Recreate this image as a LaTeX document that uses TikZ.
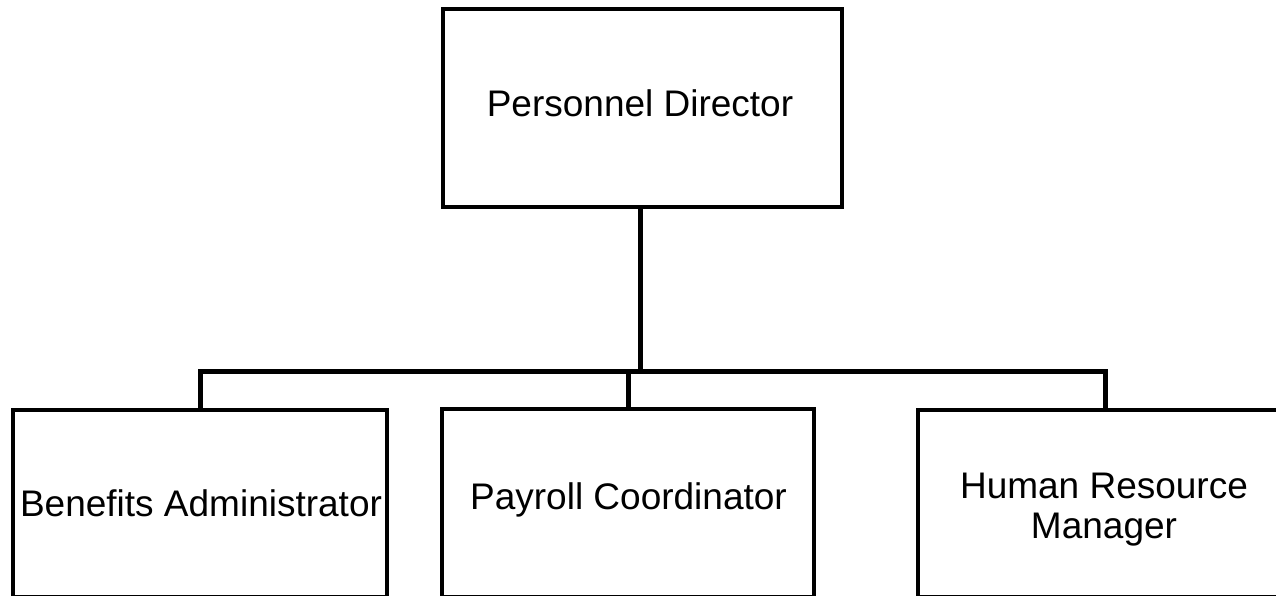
\documentclass[tikz,border=0pt]{standalone}
\usepackage{fontspec}
\setmainfont{Liberation Sans}
\begin{document}
\begin{tikzpicture}[x=1pt,y=-1pt,
  box/.style={draw=black,line width=4pt,inner sep=0pt,outer sep=0pt,fill=white},
  conn/.style={draw=black,line width=5pt,line join=miter},
  lbl/.style={inner sep=0pt,outer sep=0pt,font=\fontsize{37}{40}\selectfont,align=center,anchor=base}]
\useasboundingbox (0,0) rectangle (1276,596);
\clip (0,0) rectangle (1276,596);
\fill[white] (0,0) rectangle (1276,596);
% boxes
\node[box,minimum width=399pt,minimum height=198pt] (pd) at (642.5,108) {};
\node[box,minimum width=374pt,minimum height=187pt] (ba) at (200,503.5) {};
\node[box,minimum width=372pt,minimum height=188pt] (pc) at (628,503) {};
\node[box,minimum width=382pt,minimum height=187pt] (hr) at (1109,503.5) {};
% labels
\node[lbl] (tpd) at (640,117) {Personnel Director};
\node[lbl] (tba) at (201,516) {Benefits Administrator};
\node[lbl] (tpc) at (628.5,509) {Payroll Coordinator};
\node[lbl] (thr) at (1104,538) {Human Resource\\Manager};
% connectors
\coordinate (j) at (640,371);
\coordinate (rx) at (1105,371);
\draw[conn] (pd.south -| j) -- (j);
\draw[conn] (ba.north) |- (rx) -- (hr.north -| rx);
\draw[conn] (pc.north) -- (pc.north |- j);
\end{tikzpicture}
\end{document}
